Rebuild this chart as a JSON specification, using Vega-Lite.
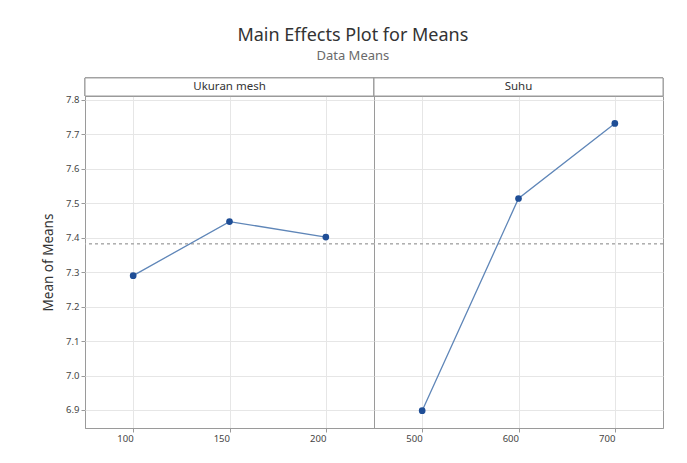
{
  "$schema": "https://vega.github.io/schema/vega-lite/v6.json",
  "background": "white",
  "padding": {"left": 41, "top": 26, "right": 20, "bottom": 10},
  "title": {
    "text": "Main Effects Plot for Means",
    "subtitle": "Data Means",
    "fontSize": 18,
    "fontWeight": "normal",
    "color": "#333333",
    "subtitleFontSize": 13,
    "subtitleColor": "#6a6a6a",
    "subtitlePadding": 5,
    "anchor": "middle",
    "frame": "bounds",
    "offset": 14
  },
  "data": {
    "values": [
      {"Factor": "Ukuran mesh", "Level": 100, "Mean": 7.29},
      {"Factor": "Ukuran mesh", "Level": 150, "Mean": 7.447},
      {"Factor": "Ukuran mesh", "Level": 200, "Mean": 7.402},
      {"Factor": "Suhu", "Level": 500, "Mean": 6.898},
      {"Factor": "Suhu", "Level": 600, "Mean": 7.514},
      {"Factor": "Suhu", "Level": 700, "Mean": 7.732}
    ]
  },
  "facet": {
    "column": {"field": "Factor", "type": "nominal", "sort": ["Ukuran mesh", "Suhu"], "header": null}
  },
  "spacing": 0,
  "bounds": "flush",
  "resolve": {"scale": {"x": "independent"}},
  "spec": {
    "width": 289,
    "height": 332,
    "layer": [
      {
        "mark": {"type": "rect", "fill": "white", "stroke": "#9a9a9a", "strokeWidth": 1},
        "encoding": {"y": {"datum": 7.8116}, "y2": {"datum": 7.864}}
      },
      {
        "transform": [{"aggregate": [{"op": "count", "as": "n"}], "groupby": ["Factor"]}],
        "mark": {"type": "text", "fontSize": 11.5, "color": "#333333", "baseline": "middle"},
        "encoding": {"y": {"datum": 7.838}, "text": {"field": "Factor"}}
      },
      {
        "mark": {"type": "rule", "strokeDash": [3, 3], "color": "#b0b0b0", "strokeWidth": 1.3},
        "encoding": {"y": {"datum": 7.383}}
      },
      {
        "mark": {"type": "line", "color": "#5f86b8", "strokeWidth": 1.3},
        "encoding": {
          "x": {"field": "Level", "type": "ordinal"},
          "y": {"field": "Mean", "type": "quantitative"}
        }
      },
      {
        "mark": {"type": "circle", "size": 45, "color": "#1f4e96", "opacity": 1},
        "encoding": {
          "x": {
            "field": "Level",
            "type": "ordinal",
            "scale": {"type": "point", "padding": 0.5},
            "axis": {"title": null, "labelAngle": 0, "grid": true, "labelPadding": 6}
          },
          "y": {
            "field": "Mean",
            "type": "quantitative",
            "scale": {"domain": [6.8477, 7.8116], "nice": false, "zero": false},
            "axis": {
              "title": "Mean of Means",
              "tickCount": 10,
              "format": ".1f",
              "grid": true,
              "labelOverlap": false,
              "titlePadding": 10
            }
          }
        }
      }
    ]
  },
  "config": {
    "font": "Noto Sans",
    "view": {"stroke": "#9a9a9a", "strokeWidth": 1},
    "axis": {
      "labelFontSize": 9.5,
      "labelColor": "#444444",
      "titleFontSize": 13.5,
      "titleFontWeight": "normal",
      "titleColor": "#333333",
      "gridColor": "#e6e6e6",
      "domainColor": "#9a9a9a",
      "tickColor": "#9a9a9a",
      "tickSize": 4
    }
  }
}
